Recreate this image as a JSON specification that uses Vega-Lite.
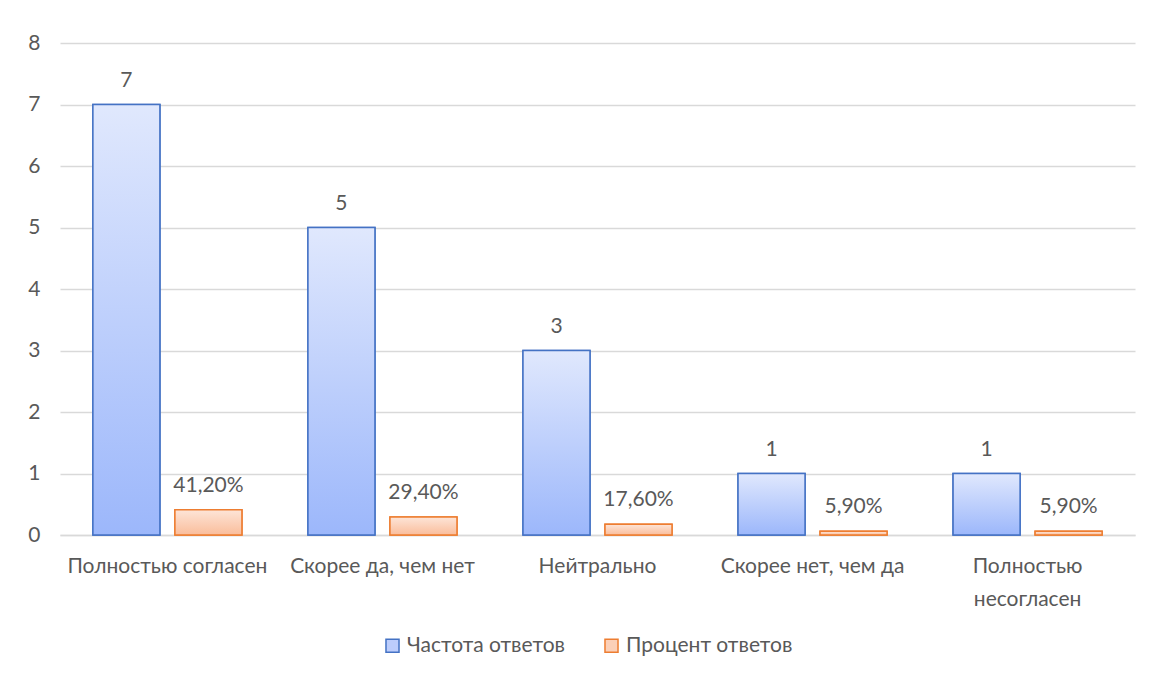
{
  "$schema": "https://vega.github.io/schema/vega-lite/v6.json",
  "width": 1075,
  "height": 492,
  "autosize": {"type": "none"},
  "padding": {"left": 60, "top": 43, "right": 15, "bottom": 145},
  "background": "white",
  "config": {
    "font": "Lato",
    "view": {"stroke": null},
    "axis": {"labelFont": "Lato", "labelColor": "#595959", "labelFontSize": 21, "titleColor": "#595959"},
    "legend": {"labelFont": "Lato", "labelColor": "#595959", "labelFontSize": 21, "labelLimit": 400}
  },
  "data": {
    "values": [
      {"cat": "Полностью согласен", "series": "Частота ответов", "value": 7, "label": "7"},
      {"cat": "Полностью согласен", "series": "Процент ответов", "value": 0.412, "label": "41,20%"},
      {"cat": "Скорее да, чем нет", "series": "Частота ответов", "value": 5, "label": "5"},
      {"cat": "Скорее да, чем нет", "series": "Процент ответов", "value": 0.294, "label": "29,40%"},
      {"cat": "Нейтрально", "series": "Частота ответов", "value": 3, "label": "3"},
      {"cat": "Нейтрально", "series": "Процент ответов", "value": 0.176, "label": "17,60%"},
      {"cat": "Скорее нет, чем да", "series": "Частота ответов", "value": 1, "label": "1"},
      {"cat": "Скорее нет, чем да", "series": "Процент ответов", "value": 0.059, "label": "5,90%"},
      {"cat": "Полностью несогласен", "series": "Частота ответов", "value": 1, "label": "1"},
      {"cat": "Полностью несогласен", "series": "Процент ответов", "value": 0.059, "label": "5,90%"}
    ]
  },
  "encoding": {
    "x": {
      "field": "cat",
      "type": "nominal",
      "sort": null,
      "scale": {"paddingInner": 0.307, "paddingOuter": 0.153},
      "axis": {
        "title": null,
        "labelAngle": 0,
        "ticks": false,
        "domainColor": "#d9d9d9",
        "domainWidth": 1.5,
        "labelPadding": 20,
        "labelLimit": 300,
        "labelLineHeight": 33,
        "labelExpr": "datum.value == 'Полностью несогласен' ? ['Полностью', 'несогласен'] : datum.value"
      }
    },
    "xOffset": {
      "field": "series",
      "type": "nominal",
      "scale": {"domain": ["Частота ответов", "Процент ответов"], "paddingInner": 0.183, "paddingOuter": 0}
    },
    "y": {
      "field": "value",
      "type": "quantitative",
      "scale": {"domain": [0, 8]},
      "axis": {
        "title": null,
        "values": [0, 1, 2, 3, 4, 5, 6, 7, 8],
        "domain": false,
        "ticks": false,
        "gridColor": "#d9d9d9",
        "gridWidth": 1.5,
        "labelPadding": 20
      }
    }
  },
  "layer": [
    {
      "mark": {"type": "bar", "strokeWidth": 1.5},
      "encoding": {
        "fill": {
          "field": "series",
          "type": "nominal",
          "scale": {"domain": ["Частота ответов", "Процент ответов"], "range": ["#bccdfc", "#fbd0b8"]},
          "legend": {
            "orient": "none",
            "legendX": 322,
            "legendY": 592,
            "direction": "horizontal",
            "title": null,
            "symbolType": "square",
            "symbolSize": 170,
            "symbolStrokeWidth": 1.5,
            "columnPadding": 36,
            "labelOffset": 4,
            "labelLimit": 400
          }
        },
        "stroke": {
          "field": "series",
          "type": "nominal",
          "scale": {"domain": ["Частота ответов", "Процент ответов"], "range": ["#4472c4", "#ed7d31"]},
          "legend": {
            "orient": "none",
            "legendX": 322,
            "legendY": 592,
            "direction": "horizontal",
            "title": null,
            "symbolType": "square",
            "symbolSize": 170,
            "symbolStrokeWidth": 1.5,
            "columnPadding": 36,
            "labelOffset": 4,
            "labelLimit": 400
          }
        }
      }
    },
    {
      "transform": [{"filter": "datum.series == 'Частота ответов'"}],
      "mark": {
        "type": "bar",
        "stroke": "#4472c4",
        "strokeWidth": 1.5,
        "fill": {"gradient": "linear", "x1": 0, "y1": 0, "x2": 0, "y2": 1, "stops": [{"offset": 0, "color": "#e0e8fd"}, {"offset": 1, "color": "#9cb7fb"}]}
      }
    },
    {
      "transform": [{"filter": "datum.series == 'Процент ответов'"}],
      "mark": {
        "type": "bar",
        "stroke": "#ed7d31",
        "strokeWidth": 1.5,
        "fill": {"gradient": "linear", "x1": 0, "y1": 0, "x2": 0, "y2": 1, "stops": [{"offset": 0, "color": "#fde5d8"}, {"offset": 1, "color": "#fabd9b"}]}
      }
    },
    {
      "mark": {"type": "text", "baseline": "bottom", "dy": -14, "fontSize": 21, "color": "#595959"},
      "encoding": {"text": {"field": "label"}}
    }
  ]
}
